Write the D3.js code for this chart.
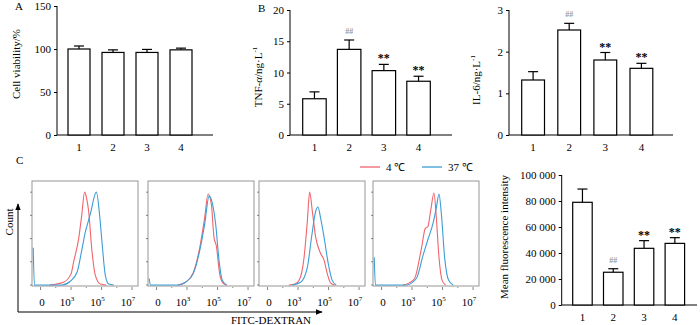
<!DOCTYPE html>
<html>
<head>
<meta charset="utf-8">
<script src="https://cdn.jsdelivr.net/npm/d3@7"></script>
<style>
  body { margin: 0; background: #fff; }
  svg { display: block; font-family: "Liberation Serif", "Times New Roman", serif; }
</style>
</head>
<body>
<svg width="700" height="325"></svg>
<script>
// groups shared by all bar panels
var groups = ['1', '2', '3', '4'];

// A: cell viability
var viability = [100, 96, 96, 99];
var viabilityErr = [3.5, 3, 3.5, 2];
var viabilityTicks = [0, 50, 100, 150];

// B: TNF-alpha
var tnf = [5.8, 13.7, 10.3, 8.6];
var tnfErr = [1.1, 1.5, 1.0, 0.8];
var tnfTicks = [0, 5, 10, 15, 20];

// IL-6
var il6 = [1.32, 2.52, 1.8, 1.6];
var il6Err = [0.2, 0.16, 0.18, 0.12];
var il6Ticks = [0, 1, 2, 3];

// mean fluorescence intensity
var mfi = [79000, 25200, 43600, 47400];
var mfiErr = [10200, 2700, 5900, 4400];
var mfiTicks = [0, 20000, 40000, 60000, 80000, 100000];

var marks = ['', '##', '**', '**'];

// flow cytometry histograms: [log10 fluorescence, relative count]
var flowRed = [
  [[1.6, 0], [2.5, 0.03], [3.0, 0.12], [3.17, 0.25], [3.5, 0.5], [3.7, 0.75], [3.89, 1.0], [4.0, 0.95], [4.15, 0.8], [4.38, 0.35], [4.6, 0.1], [4.92, 0.01], [5.3, 0]],
  [[2.4, 0], [2.9, 0.03], [3.4, 0.13], [3.83, 0.4], [4.15, 0.72], [4.38, 0.98], [4.6, 0.86], [4.72, 0.6], [4.77, 0.51], [4.92, 0.42], [5.14, 0.12], [5.36, 0.02], [5.6, 0]],
  [[2.4, 0], [2.8, 0.01], [3.07, 0.05], [3.39, 0.29], [3.61, 0.69], [3.76, 1.0], [3.94, 0.79], [4.15, 0.52], [4.48, 0.34], [4.7, 0.27], [4.92, 0.12], [5.14, 0.02], [5.4, 0]],
  [[2.4, 0], [2.8, 0.02], [3.17, 0.07], [3.61, 0.39], [3.87, 0.61], [4.04, 0.63], [4.22, 0.8], [4.44, 0.99], [4.59, 0.73], [4.77, 0.29], [4.97, 0.05], [5.2, 0]]
];
var flowBlue = [
  [[0.52, 0.4], [0.6, 0], [2.4, 0], [2.95, 0.04], [3.4, 0.14], [3.72, 0.39], [3.95, 0.58], [4.0, 0.61], [4.27, 0.77], [4.66, 1.0], [4.88, 0.74], [5.03, 0.46], [5.25, 0.1], [5.47, 0.01], [5.8, 0]],
  [[0.52, 0.07], [0.6, 0], [2.4, 0], [2.9, 0.03], [3.4, 0.12], [3.83, 0.37], [4.15, 0.65], [4.45, 0.96], [4.66, 0.88], [4.88, 0.65], [5.1, 0.26], [5.31, 0.05], [5.6, 0]],
  [[2.6, 0], [3.17, 0.03], [3.61, 0.19], [3.89, 0.52], [4.15, 0.79], [4.31, 0.84], [4.48, 0.72], [4.7, 0.52], [4.96, 0.25], [5.24, 0.05], [5.5, 0]],
  [[0.52, 0.3], [0.6, 0], [2.6, 0], [3.28, 0.07], [3.72, 0.32], [4.04, 0.49], [4.37, 0.66], [4.59, 0.83], [4.77, 0.98], [4.92, 0.77], [5.14, 0.29], [5.4, 0.05], [5.7, 0]]
];
var flowTicks = [1.1, 3, 5, 7];
var flowTickLabels = ['0', '3', '5', '7'];
var legendItems = ['4 ℃', '37 ℃'];

var red = '#f0646c';
var blue = '#3c9dd6';
var svg = d3.select('svg');

// generic bar panel with error bars
function barPanel(o) {
  var g = svg.append('g');
  var y = d3.scaleLinear().domain(o.domain).range([o.bottom, o.top]);
  var gap = o.step - o.bw;
  var x = d3.scaleBand().domain(groups)
    .range([o.bandStart, o.bandStart + 4 * o.step - gap])
    .paddingInner(gap / o.step);

  var yAxis = g.append('g')
    .attr('transform', 'translate(' + o.x0 + ',0)')
    .call(d3.axisLeft(y).tickValues(o.ticks).tickSize(3).tickFormat(o.fmt || d3.format('')))
    .attr('font-family', null).attr('font-size', 11);
  yAxis.select('.domain').attr('d', 'M0,' + o.bottom + 'V' + o.top);
  yAxis.selectAll('text').attr('x', -6);

  g.append('line')
    .attr('x1', o.x0).attr('x2', o.x1)
    .attr('y1', o.bottom).attr('y2', o.bottom)
    .attr('stroke', '#000');

  var bars = g.selectAll('.bar').data(o.values).enter().append('g');
  bars.append('line')
    .attr('x1', (d, i) => x(groups[i]) + x.bandwidth() / 2)
    .attr('x2', (d, i) => x(groups[i]) + x.bandwidth() / 2)
    .attr('y1', d => y(d))
    .attr('y2', (d, i) => y(d + o.err[i]))
    .attr('stroke', '#000').attr('stroke-width', 1.2);
  bars.append('line')
    .attr('x1', (d, i) => x(groups[i]) + x.bandwidth() / 2 - 5)
    .attr('x2', (d, i) => x(groups[i]) + x.bandwidth() / 2 + 5)
    .attr('y1', (d, i) => y(d + o.err[i]))
    .attr('y2', (d, i) => y(d + o.err[i]))
    .attr('stroke', '#000').attr('stroke-width', 1.2);
  bars.append('rect')
    .attr('x', (d, i) => x(groups[i]))
    .attr('y', d => y(d))
    .attr('width', x.bandwidth())
    .attr('height', d => o.bottom - y(d))
    .attr('fill', '#fff').attr('stroke', '#000').attr('stroke-width', 1.2);

  if (o.marks) {
    bars.append('text')
      .attr('x', (d, i) => x(groups[i]) + x.bandwidth() / 2)
      .attr('y', (d, i) => y(d + o.err[i]) - (o.marks[i] == '##' ? 6 : 2))
      .attr('text-anchor', 'middle')
      .attr('font-size', (d, i) => o.marks[i] == '##' ? 8 : 12)
      .attr('font-weight', 'bold')
      .attr('fill', (d, i) => o.marks[i] == '##' ? '#999' : '#000')
      .text((d, i) => o.marks[i]);
  }

  g.selectAll('.cat').data(groups).enter().append('text')
    .attr('x', d => x(d) + x.bandwidth() / 2)
    .attr('y', o.labelY)
    .attr('text-anchor', 'middle').attr('font-size', 11)
    .text(d => d);

  var lab = g.append('text')
    .attr('transform', 'translate(' + o.labelX + ',' + o.labelMid + ') rotate(-90)')
    .attr('text-anchor', 'middle').attr('font-size', 11);
  o.label(lab);
}

barPanel({
  values: viability, err: viabilityErr, domain: [0, 150], ticks: viabilityTicks,
  x0: 57, x1: 213, top: 6, bottom: 135, bandStart: 68, step: 34, bw: 22, labelY: 151,
  labelX: 20, labelMid: 64,
  label: t => t.text('Cell viability/%')
});

barPanel({
  values: tnf, err: tnfErr, domain: [0, 20], ticks: tnfTicks, marks: marks,
  x0: 290, x1: 452, top: 10, bottom: 135, bandStart: 302.7, step: 34.7, bw: 23.5, labelY: 151,
  labelX: 262, labelMid: 77,
  label: function (t) {
    t.append('tspan').text('TNF-');
    t.append('tspan').attr('font-style', 'italic').text('α');
    t.append('tspan').text('/ng·L');
    t.append('tspan').attr('font-size', 7).attr('dy', -5).text('-1');
  }
});

barPanel({
  values: il6, err: il6Err, domain: [0, 3], ticks: il6Ticks, marks: marks,
  x0: 509, x1: 673, top: 10, bottom: 135, bandStart: 521.7, step: 36.1, bw: 22.8, labelY: 151,
  labelX: 480, labelMid: 80,
  label: function (t) {
    t.append('tspan').text('IL-6/ng·L');
    t.append('tspan').attr('font-size', 7).attr('dy', -5).text('-1');
  }
});

barPanel({
  values: mfi, err: mfiErr, domain: [0, 100000], ticks: mfiTicks, marks: marks,
  fmt: v => d3.format(',')(v).replace(/,/g, ' '),
  x0: 561.7, x1: 697, top: 175, bottom: 305, bandStart: 572.7, step: 30.8, bw: 19.5, labelY: 321,
  labelX: 508, labelMid: 237,
  label: t => t.text('Mean fluorescence intensity')
});

// panel letters
svg.append('text').attr('x', 15).attr('y', 10).attr('font-size', 11).text('A');
svg.append('text').attr('x', 258).attr('y', 12).attr('font-size', 11).text('B');
svg.append('text').attr('x', 16).attr('y', 164).attr('font-size', 11).text('C');

// flow cytometry histograms
var flowLefts = [32, 148, 259, 373];
var flowW = 106, flowTop = 181, flowBottom = 286;
var fy = d3.scaleLinear().domain([0, 1.12]).range([flowBottom - 1, flowTop]);

flowLefts.forEach(function (left, p) {
  var fx = d3.scaleLinear().domain([0.44, 7.39]).range([left, left + flowW]);
  var g = svg.append('g');
  var line = d3.line().x(d => fx(d[0])).y(d => fy(d[1])).curve(d3.curveMonotoneX);

  g.append('rect')
    .attr('x', left).attr('y', flowTop).attr('width', flowW).attr('height', flowBottom - flowTop)
    .attr('fill', 'none').attr('stroke', '#9a9494').attr('stroke-width', 1);

  // small count ticks on the left edge
  g.selectAll('.yt').data(d3.range(0, 1.1, 0.25)).enter().append('line')
    .attr('x1', left - 2).attr('x2', left)
    .attr('y1', d => fy(d)).attr('y2', d => fy(d))
    .attr('stroke', '#666').attr('stroke-width', 0.8);

  // ticks below the frame
  g.selectAll('.xt').data(d3.range(1, 8)).enter().append('line')
    .attr('x1', d => fx(d)).attr('x2', d => fx(d))
    .attr('y1', flowBottom + 1).attr('y2', d => flowBottom + (d % 2 ? 4 : 2))
    .attr('stroke', '#666').attr('stroke-width', 0.8);

  g.append('path').datum(flowRed[p]).attr('d', line)
    .attr('fill', 'none').attr('stroke', red).attr('stroke-width', 1.1);
  g.append('path').datum(flowBlue[p]).attr('d', line)
    .attr('fill', 'none').attr('stroke', blue).attr('stroke-width', 1.1);

  var tl = g.selectAll('.tl').data(flowTicks).enter().append('text')
    .attr('x', (d, i) => fx(d) - (i ? 4 : 0))
    .attr('y', 306)
    .attr('text-anchor', 'middle').attr('font-size', 11);
  tl.each(function (d, i) {
    var t = d3.select(this);
    if (i == 0) { t.text(flowTickLabels[i]); return; }
    t.append('tspan').text('10');
    t.append('tspan').attr('font-size', 7).attr('dy', -5).text(flowTickLabels[i]);
  });
});

// arrow axes for the flow plots
var defs = svg.append('defs');
defs.append('marker').attr('id', 'arr').attr('viewBox', '0 0 10 10')
  .attr('refX', 9).attr('refY', 5).attr('markerWidth', 7).attr('markerHeight', 7)
  .attr('orient', 'auto')
  .append('path').attr('d', 'M0,1L10,5L0,9z').attr('fill', '#000');

svg.append('line').attr('x1', 18).attr('y1', 312).attr('x2', 18).attr('y2', 204)
  .attr('stroke', '#000').attr('stroke-width', 1).attr('marker-end', 'url(#arr)');
svg.append('line').attr('x1', 18).attr('y1', 312).attr('x2', 322).attr('y2', 312)
  .attr('stroke', '#000').attr('stroke-width', 1).attr('marker-end', 'url(#arr)');

svg.append('text').attr('transform', 'translate(13,222) rotate(-90)')
  .attr('text-anchor', 'middle').attr('font-size', 11).text('Count');
svg.append('text').attr('x', 271).attr('y', 324)
  .attr('text-anchor', 'middle').attr('font-size', 11).text('FITC-DEXTRAN');

// legend
var lg = svg.append('g');
legendItems.forEach(function (name, i) {
  var lx = [360, 422][i];
  lg.append('line').attr('x1', lx).attr('x2', lx + 20).attr('y1', 167).attr('y2', 167)
    .attr('stroke', [red, blue][i]).attr('stroke-width', 1.3);
  lg.append('text').attr('x', lx + 26).attr('y', 171).attr('font-size', 11).text(name);
});
</script>
</body>
</html>
